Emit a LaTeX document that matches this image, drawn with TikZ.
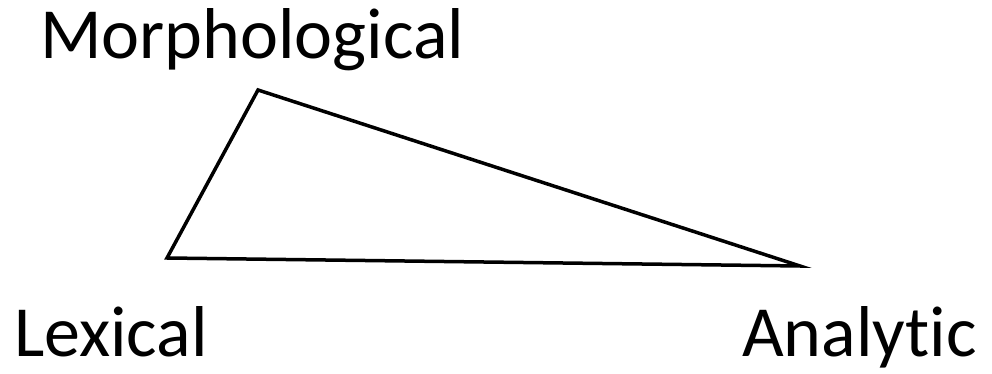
\documentclass[tikz,border=0pt]{standalone}
\usepackage{fontspec}
\setmainfont[Ligatures=NoCommon]{Carlito}
\usetikzlibrary{positioning}
\tikzset{term/.style={font=\fontsize{72}{86}\selectfont,inner sep=0pt,anchor=base west},
  side/.style={line width=3.5pt,line join=miter,line cap=round}}

\begin{document}
\begin{tikzpicture}[x=1pt,y=1pt]
\useasboundingbox (0,0) rectangle (992,374);
\coordinate (m) at (258,284);
\coordinate (l) at (167,116);
\coordinate (a) at (800,108);
\node[term] (morph) at (40,315) {Morphological};
\node[term] (lex) at (14,17) {Lexical};
\node[term] (ana) at (742,17) {Analytic};
\draw[side] (m)--(l)--(a)--cycle;
\end{tikzpicture}
\end{document}
